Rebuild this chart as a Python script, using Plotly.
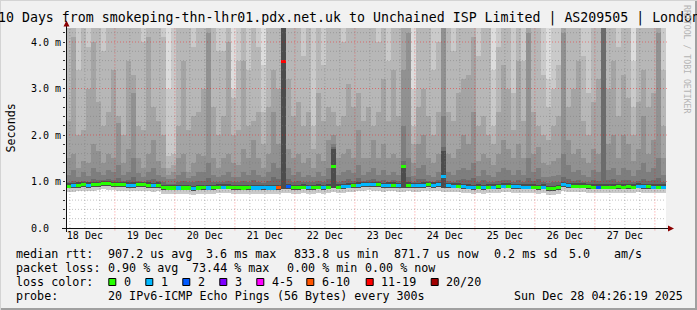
import plotly.graph_objects as go
from datetime import datetime, timedelta

# ---------------- data ----------------
TITLE = "10 Days from smokeping-thn-lhr01.pdx.net.uk to Unchained ISP Limited | AS209505 | London"
END = datetime(2025, 12, 28, 4, 26, 19)
START = END - timedelta(days=10)
BIN_HOURS = 2

day_labels = ["18 Dec", "19 Dec", "20 Dec", "21 Dec", "22 Dec",
              "23 Dec", "24 Dec", "25 Dec", "26 Dec", "27 Dec"]
day_label_times = [datetime(2025, 12, d, 12) for d in range(18, 28)]
y_tick_vals = [0, 1, 2, 3, 4]
y_tick_text = ["0.0\u00a0\u00a0", "1.0 m", "2.0 m", "3.0 m", "4.0 m"]

# median RTT per 2-hour bin (ms)
median_ms = [
    0.90, 0.91, 0.92, 0.93, 0.92, 0.93, 0.94, 0.96, 0.95, 0.94,
    0.93, 0.93, 0.92, 0.92, 0.93, 0.93, 0.92, 0.91, 0.92, 0.87,
    0.86, 0.86, 0.86, 0.86, 0.86, 0.85, 0.86, 0.87, 0.86, 0.87,
    0.88, 0.88, 0.88, 0.87, 0.87, 0.86, 0.87, 0.86, 0.86, 0.87,
    0.86, 0.86, 0.87, 3.58, 0.89, 0.87, 0.87, 0.88, 0.87, 0.87,
    0.88, 0.87, 0.88, 1.33, 0.88, 0.89, 0.90, 0.91, 0.92, 0.93,
    0.94, 0.93, 0.93, 0.91, 0.92, 0.92, 0.91, 1.32, 0.92, 0.91,
    0.91, 0.92, 0.93, 0.92, 0.93, 1.10, 0.91, 0.90, 0.90, 0.89,
    0.88, 0.87, 0.88, 0.87, 0.88, 0.88, 0.89, 0.90, 0.90, 0.89,
    0.89, 0.88, 0.88, 0.88, 0.87, 0.88, 0.85, 0.84, 0.87, 0.93,
    0.91, 0.90, 0.90, 0.90, 0.89, 0.88, 0.88, 0.88, 0.88, 0.88,
    0.89, 0.88, 0.89, 0.88, 0.90, 0.89, 0.89, 0.88, 0.88, 0.88,
]
# lost pings (of 20) per bin
loss_count = [
    0, 1, 0, 0, 1, 0, 0, 0, 0, 0,
    0, 0, 1, 1, 0, 0, 0, 1, 0, 0,
    0, 0, 1, 0, 0, 1, 0, 0, 1, 0,
    0, 1, 0, 0, 0, 0, 0, 1, 1, 1,
    1, 1, 7, 15, 2, 0, 0, 0, 1, 0,
    0, 1, 0, 0, 0, 1, 1, 0, 1, 1,
    1, 1, 0, 1, 1, 0, 1, 0, 0, 1,
    1, 1, 0, 1, 1, 1, 1, 1, 0, 1,
    1, 1, 0, 1, 0, 1, 0, 1, 0, 1,
    1, 1, 1, 0, 0, 1, 0, 0, 0, 1,
    1, 0, 0, 0, 0, 0, 2, 0, 0, 0,
    0, 0, 0, 0, 1, 1, 0, 1, 0, 1,
]
# sorted ping quantiles per bin (ms); 9.9 = beyond the plotted range
ping_min = [
    0.77, 0.78, 0.79, 0.80, 0.79, 0.80, 0.81, 0.83, 0.82, 0.81,
    0.80, 0.80, 0.79, 0.79, 0.80, 0.80, 0.79, 0.78, 0.79, 0.74,
    0.73, 0.73, 0.73, 0.73, 0.73, 0.72, 0.73, 0.74, 0.73, 0.74,
    0.75, 0.75, 0.75, 0.74, 0.74, 0.73, 0.74, 0.73, 0.73, 0.74,
    0.73, 0.73, 0.74, 0.76, 0.76, 0.74, 0.74, 0.75, 0.74, 0.74,
    0.75, 0.74, 0.75, 0.77, 0.75, 0.76, 0.77, 0.78, 0.79, 0.80,
    0.81, 0.80, 0.80, 0.78, 0.79, 0.79, 0.78, 0.78, 0.79, 0.78,
    0.78, 0.79, 0.80, 0.79, 0.80, 0.78, 0.78, 0.77, 0.77, 0.76,
    0.75, 0.74, 0.75, 0.74, 0.75, 0.75, 0.76, 0.77, 0.77, 0.76,
    0.76, 0.75, 0.75, 0.75, 0.74, 0.75, 0.72, 0.71, 0.74, 0.80,
    0.78, 0.77, 0.77, 0.77, 0.76, 0.75, 0.75, 0.75, 0.75, 0.75,
    0.76, 0.75, 0.76, 0.75, 0.77, 0.76, 0.76, 0.75, 0.75, 0.75,
]
ping_lo = [
    0.85, 0.86, 0.87, 0.88, 0.87, 0.88, 0.89, 0.91, 0.90, 0.89,
    0.88, 0.88, 0.87, 0.87, 0.88, 0.88, 0.87, 0.86, 0.87, 0.82,
    0.81, 0.81, 0.81, 0.81, 0.81, 0.80, 0.81, 0.82, 0.81, 0.82,
    0.83, 0.83, 0.83, 0.82, 0.82, 0.81, 0.82, 0.81, 0.81, 0.82,
    0.81, 0.81, 0.82, 0.84, 0.84, 0.82, 0.82, 0.83, 0.82, 0.82,
    0.83, 0.82, 0.83, 0.85, 0.83, 0.84, 0.85, 0.86, 0.87, 0.88,
    0.89, 0.88, 0.88, 0.86, 0.87, 0.87, 0.86, 0.86, 0.87, 0.86,
    0.86, 0.87, 0.88, 0.87, 0.88, 0.86, 0.86, 0.85, 0.85, 0.84,
    0.83, 0.82, 0.83, 0.82, 0.83, 0.83, 0.84, 0.85, 0.85, 0.84,
    0.84, 0.83, 0.83, 0.83, 0.82, 0.83, 0.80, 0.79, 0.82, 0.88,
    0.86, 0.85, 0.85, 0.85, 0.84, 0.83, 0.83, 0.83, 0.83, 0.83,
    0.84, 0.83, 0.84, 0.83, 0.85, 0.84, 0.84, 0.83, 0.83, 0.83,
]
ping_p11 = [
    0.96, 0.97, 0.98, 0.99, 0.98, 0.99, 1.00, 1.02, 1.01, 1.00,
    0.99, 0.99, 0.98, 0.98, 0.99, 0.99, 0.98, 0.97, 0.98, 0.93,
    0.92, 0.92, 0.92, 0.92, 0.92, 0.91, 0.92, 0.93, 0.92, 0.93,
    0.94, 0.94, 0.94, 0.93, 0.93, 0.92, 0.93, 0.92, 0.92, 0.93,
    0.92, 0.92, 0.93, 9.9, 0.95, 0.93, 0.93, 0.94, 0.93, 0.93,
    0.94, 0.93, 0.94, 1.70, 0.94, 0.95, 0.96, 0.97, 0.98, 0.99,
    1.00, 0.99, 0.99, 0.97, 0.98, 0.98, 0.97, 1.36, 0.98, 0.97,
    0.97, 0.98, 0.99, 0.98, 0.99, 1.65, 0.97, 0.96, 0.96, 0.95,
    0.94, 0.93, 0.94, 0.93, 0.94, 0.94, 0.95, 0.96, 0.96, 0.95,
    0.95, 0.94, 0.94, 0.94, 0.93, 0.94, 0.91, 0.90, 0.93, 0.99,
    0.97, 0.96, 0.96, 0.96, 0.95, 0.94, 0.94, 0.94, 0.94, 0.94,
    0.95, 0.94, 0.95, 0.94, 0.96, 0.95, 0.95, 0.94, 0.94, 0.94,
]
ping_p14 = [
    1.00, 1.02, 0.99, 1.02, 1.00, 1.05, 1.03, 1.04, 1.05, 1.03,
    1.08, 1.02, 1.03, 1.10, 1.02, 1.00, 1.04, 1.05, 1.02, 0.98,
    0.95, 0.95, 1.00, 1.02, 0.98, 1.00, 1.02, 1.02, 1.08, 1.00,
    0.98, 1.00, 1.02, 0.98, 0.98, 1.02, 1.00, 1.03, 1.00, 0.97,
    1.02, 1.10, 1.05, 9.9, 1.05, 1.00, 1.02, 0.99, 1.00, 0.98,
    1.02, 1.00, 1.05, 1.75, 1.00, 1.02, 1.05, 1.02, 1.08, 1.02,
    1.03, 1.05, 1.02, 1.04, 1.00, 1.03, 1.02, 1.45, 1.10, 1.00,
    1.05, 1.05, 1.02, 1.00, 1.03, 1.75, 1.02, 1.00, 1.03, 1.05,
    1.04, 1.08, 1.00, 1.03, 1.00, 0.98, 1.02, 1.04, 1.03, 1.00,
    1.03, 1.00, 1.08, 1.02, 1.05, 0.98, 0.97, 0.98, 1.00, 1.10,
    1.05, 1.02, 1.03, 1.00, 0.98, 1.03, 1.02, 9.9, 1.03, 1.05,
    1.00, 1.04, 1.03, 0.99, 1.02, 1.06, 1.02, 1.04, 1.08, 1.00,
]
ping_p15 = [
    1.15, 1.25, 1.10, 1.20, 1.12, 1.30, 1.20, 1.15, 1.25, 1.20,
    1.35, 1.15, 1.20, 1.50, 1.18, 1.10, 1.20, 1.30, 1.15, 1.10,
    1.05, 1.05, 1.15, 1.20, 1.08, 1.12, 1.20, 1.20, 1.40, 1.15,
    1.10, 1.15, 1.20, 1.10, 1.10, 1.20, 1.15, 1.25, 1.15, 1.10,
    1.20, 1.40, 1.30, 9.9, 1.30, 1.15, 1.20, 1.10, 1.15, 1.10,
    1.20, 1.12, 1.30, 1.80, 1.15, 1.20, 1.25, 1.18, 1.35, 1.15,
    1.20, 1.30, 1.15, 1.25, 1.15, 1.20, 1.15, 2.20, 1.50, 1.12,
    1.30, 1.35, 1.15, 1.10, 1.20, 2.40, 1.20, 1.15, 1.25, 1.30,
    1.25, 1.40, 1.12, 1.25, 1.15, 1.10, 1.20, 1.30, 1.25, 1.15,
    1.25, 1.15, 1.50, 1.20, 1.30, 1.10, 1.10, 1.12, 1.15, 1.60,
    1.35, 1.20, 1.25, 1.15, 1.10, 1.25, 1.20, 9.9, 1.25, 1.30,
    1.15, 1.30, 1.25, 1.12, 1.25, 1.40, 1.20, 1.30, 1.50, 1.15,
]
ping_p16 = [
    1.50, 1.60, 1.30, 1.45, 1.40, 1.80, 1.65, 1.40, 1.60, 1.50,
    2.25, 1.40, 1.70, 2.90, 1.50, 1.30, 1.60, 1.90, 1.45, 1.30,
    1.15, 1.20, 1.50, 1.60, 1.20, 1.40, 1.60, 1.55, 4.20, 1.50,
    1.30, 1.50, 1.60, 1.40, 1.35, 1.70, 1.50, 1.90, 1.50, 1.30,
    1.60, 2.50, 1.80, 9.9, 1.70, 1.50, 1.60, 1.40, 1.50, 1.30,
    1.60, 1.45, 1.90, 2.00, 1.50, 1.60, 1.70, 1.50, 2.10, 1.50,
    1.50, 1.90, 1.50, 1.80, 1.50, 1.60, 1.50, 3.40, 4.20, 1.40,
    1.80, 2.00, 1.50, 1.40, 1.60, 4.30, 1.60, 1.50, 1.70, 2.00,
    1.80, 2.50, 1.45, 1.60, 1.50, 1.35, 1.60, 1.90, 1.70, 1.50,
    1.80, 1.50, 4.20, 1.60, 1.75, 1.40, 1.35, 1.45, 1.50, 4.20,
    1.90, 1.60, 1.70, 1.50, 1.40, 1.70, 1.60, 9.9, 1.80, 2.00,
    1.50, 2.00, 1.80, 1.45, 1.70, 2.40, 1.60, 1.90, 4.20, 1.50,
]
ping_p17 = [
    2.30, 4.10, 2.00, 2.10, 3.00, 4.00, 2.70, 2.20, 2.50, 3.40,
    2.40, 2.00, 3.60, 3.30, 2.20, 2.10, 4.10, 2.60, 2.30, 2.00,
    1.30, 1.35, 2.20, 3.60, 2.10, 2.40, 2.50, 3.00, 9.9, 2.60,
    2.00, 2.40, 4.00, 2.00, 2.10, 3.60, 2.20, 2.30, 2.50, 1.80,
    2.60, 3.40, 3.00, 9.9, 3.20, 2.40, 2.70, 2.20, 2.50, 1.70,
    2.90, 2.30, 2.60, 2.50, 2.20, 2.40, 3.10, 2.60, 2.90, 2.30,
    2.60, 2.20, 2.50, 3.20, 2.30, 3.40, 2.40, 9.9, 9.9, 1.80,
    2.60, 3.00, 2.40, 2.00, 2.50, 9.9, 2.50, 2.30, 2.90, 3.20,
    3.30, 4.10, 2.20, 2.40, 2.00, 1.80, 2.50, 3.50, 3.00, 2.10,
    3.60, 2.30, 9.9, 2.50, 2.20, 2.00, 1.90, 2.20, 2.40, 9.9,
    2.60, 3.00, 3.60, 2.30, 2.00, 2.70, 3.20, 9.9, 3.00, 3.60,
    2.40, 3.30, 2.80, 2.00, 2.70, 3.40, 2.60, 2.90, 9.9, 2.20,
]
ping_p18 = [
    9.9, 9.9, 3.40, 9.9, 3.90, 9.9, 9.9, 3.80, 9.9, 9.9,
    9.9, 9.9, 9.9, 9.9, 9.9, 4.00, 9.9, 9.9, 9.9, 4.10,
    1.55, 1.60, 9.9, 9.9, 9.9, 3.90, 9.9, 9.9, 9.9, 9.9,
    3.80, 3.80, 9.9, 2.80, 3.60, 9.9, 3.40, 9.9, 3.90, 2.50,
    9.9, 9.9, 9.9, 9.9, 9.9, 9.9, 9.9, 3.70, 9.9, 2.20,
    9.9, 3.50, 9.9, 9.9, 9.9, 4.00, 9.9, 9.9, 9.9, 9.9,
    9.9, 9.9, 4.00, 9.9, 3.60, 9.9, 9.9, 9.9, 9.9, 2.20,
    9.9, 9.9, 9.9, 3.40, 4.00, 9.9, 9.9, 3.80, 9.9, 9.9,
    9.9, 9.9, 3.70, 9.9, 9.9, 2.20, 3.90, 9.9, 9.9, 2.90,
    9.9, 3.60, 9.9, 9.9, 9.9, 3.30, 2.60, 3.00, 3.50, 9.9,
    9.9, 9.9, 9.9, 3.70, 2.90, 9.9, 9.9, 9.9, 9.9, 9.9,
    3.90, 9.9, 9.9, 2.60, 9.9, 9.9, 9.9, 9.9, 9.9, 3.40,
]
ping_p19 = [
    9.9, 9.9, 9.9, 9.9, 9.9, 9.9, 9.9, 9.9, 9.9, 9.9,
    9.9, 9.9, 9.9, 9.9, 9.9, 9.9, 9.9, 9.9, 9.9, 9.9,
    3.00, 9.9, 9.9, 9.9, 9.9, 9.9, 9.9, 9.9, 9.9, 9.9,
    9.9, 9.9, 9.9, 3.00, 9.9, 9.9, 9.9, 9.9, 9.9, 3.50,
    9.9, 9.9, 9.9, 9.9, 9.9, 9.9, 9.9, 9.9, 9.9, 9.9,
    9.9, 9.9, 9.9, 9.9, 9.9, 9.9, 9.9, 9.9, 9.9, 9.9,
    9.9, 9.9, 9.9, 9.9, 9.9, 9.9, 9.9, 9.9, 9.9, 3.00,
    9.9, 9.9, 9.9, 9.9, 9.9, 9.9, 9.9, 9.9, 9.9, 9.9,
    9.9, 9.9, 9.9, 9.9, 9.9, 3.40, 9.9, 9.9, 9.9, 9.9,
    9.9, 9.9, 9.9, 9.9, 9.9, 9.9, 3.20, 9.9, 9.9, 9.9,
    9.9, 9.9, 9.9, 9.9, 9.9, 9.9, 9.9, 9.9, 9.9, 9.9,
    9.9, 9.9, 9.9, 3.60, 9.9, 9.9, 9.9, 9.9, 9.9, 9.9,
]
ping_p20 = [
    9.9, 9.9, 9.9, 9.9, 9.9, 9.9, 9.9, 9.9, 9.9, 9.9,
    9.9, 9.9, 9.9, 9.9, 9.9, 9.9, 9.9, 9.9, 9.9, 9.9,
    9.9, 9.9, 9.9, 9.9, 9.9, 9.9, 9.9, 9.9, 9.9, 9.9,
    9.9, 9.9, 9.9, 9.9, 9.9, 9.9, 9.9, 9.9, 9.9, 9.9,
    9.9, 9.9, 9.9, 9.9, 9.9, 9.9, 9.9, 9.9, 9.9, 9.9,
    9.9, 9.9, 9.9, 9.9, 9.9, 9.9, 9.9, 9.9, 9.9, 9.9,
    9.9, 9.9, 9.9, 9.9, 9.9, 9.9, 9.9, 9.9, 9.9, 9.9,
    9.9, 9.9, 9.9, 9.9, 9.9, 9.9, 9.9, 9.9, 9.9, 9.9,
    9.9, 9.9, 9.9, 9.9, 9.9, 9.9, 9.9, 9.9, 9.9, 9.9,
    9.9, 9.9, 9.9, 9.9, 9.9, 9.9, 9.9, 9.9, 9.9, 9.9,
    9.9, 9.9, 9.9, 9.9, 9.9, 9.9, 9.9, 9.9, 9.9, 9.9,
    9.9, 9.9, 9.9, 9.9, 9.9, 9.9, 9.9, 9.9, 9.9, 9.9,
]

loss_labels = ["0", "1", "2", "3", "4-5", "6-10", "11-19", "20/20"]
loss_upper = [0, 1, 2, 3, 5, 10, 19, 20]
loss_colors = ["#26ff00", "#00b8ff", "#0059ff", "#7e00ff",
               "#ff00ff", "#ff5500", "#ff0000", "#a10000"]

stat_rows = [
    [("median rtt:", 16), ("907.2 us avg", 107.3), ("3.6 ms max", 206),
     ("833.8 us min", 293.3), ("871.7 us now", 393.3), ("0.2 ms sd", 493.3),
     ("5.0", 568.3), ("am/s", 613.3)],
    [("packet loss:", 16), ("0.90 % avg", 107.3), ("73.44 % max", 191.5),
     ("0.00 % min", 286.7), ("0.00 % now", 365)],
]
probe_text = "20 IPv6-ICMP Echo Pings (56 Bytes) every 300s"
stamp_text = "Sun Dec 28 04:26:19 2025"

# ---------------- styling / geometry ----------------
W, H = 697, 310
PL, PR, PT, PB = 66, 666, 28, 228
MONO = "DejaVu Sans Mono"
Y_TOP = 200 / 46.5


def fx(px):
    return (px - PL) / (PR - PL)


def fy(py):
    return (PB - py) / (PB - PT)


def loss_color(n):
    for ub, c in zip(loss_upper, loss_colors):
        if n <= ub:
            return c
    return loss_colors[-1]


n_bins = len(median_ms)
bin_ms = BIN_HOURS * 3600 * 1000
centers = [START + timedelta(hours=BIN_HOURS * (i + 0.5)) for i in range(n_bins)]

fig = go.Figure()

smoke_layers = [
    (ping_min, ping_p20, "#dddddd"),
    (ping_min, ping_p19, "#cacaca"),
    (ping_lo, ping_p18, "#b7b7b7"),
    (ping_lo, ping_p17, "#a4a4a4"),
    (ping_lo, ping_p16, "#919191"),
    (ping_lo, ping_p15, "#7e7e7e"),
    (ping_lo, ping_p14, "#6b6b6b"),
    (ping_lo, ping_p11, "#4c4c4c"),
]
for lo, hi, col in smoke_layers:
    fig.add_trace(go.Bar(
        x=centers, base=lo, y=[h - l for h, l in zip(hi, lo)],
        width=bin_ms, marker=dict(color=col, line=dict(width=0)),
        hoverinfo="skip", showlegend=False))

MED_H = 0.066
fig.add_trace(go.Bar(
    x=centers, base=[m - MED_H / 2 for m in median_ms], y=[MED_H] * n_bins,
    width=bin_ms, marker=dict(color=[loss_color(n) for n in loss_count],
                              line=dict(width=0)),
    hoverinfo="skip", showlegend=False))

shapes = []
# grid lines (drawn above the smoke, like rrdtool)
minor_grid = "rgba(120,120,120,0.45)"
major_grid = "rgba(255,0,0,0.42)"
t = datetime(2025, 12, 18, 6)
while t < END:
    if t > START:
        major = t.hour == 0
        shapes.append(dict(type="line", xref="x", yref="paper", x0=t, x1=t,
                           y0=-0.012 if major else 0, y1=1, layer="above",
                           line=dict(color=major_grid if major else minor_grid,
                                     width=1, dash="1px,2px")))
    t += timedelta(hours=6)
for k in range(1, 22):
    v = k * 0.2
    major = k % 5 == 0
    shapes.append(dict(type="line", xref="paper", yref="y", x0=0,
                       x1=fx(669) if major else 1, y0=v, y1=v, layer="above",
                       line=dict(color=major_grid if major else minor_grid,
                                 width=1, dash="1px,2px")))
# axes with arrows
shapes.append(dict(type="line", xref="paper", yref="paper", x0=fx(62), x1=fx(669),
                   y0=fy(228.5), y1=fy(228.5), layer="above",
                   line=dict(color="#111111", width=1)))
shapes.append(dict(type="line", xref="paper", yref="paper", x0=fx(66.5), x1=fx(66.5),
                   y0=fy(232), y1=fy(25), layer="above",
                   line=dict(color="#111111", width=1)))
shapes.append(dict(type="path", xref="paper", yref="paper", layer="above",
                   path=f"M {fx(668)},{fy(225.5)} L {fx(674)},{fy(228.5)} L {fx(668)},{fy(231.5)} Z",
                   fillcolor="#8b0000", line=dict(width=0)))
shapes.append(dict(type="path", xref="paper", yref="paper", layer="above",
                   path=f"M {fx(63.5)},{fy(26.5)} L {fx(66.5)},{fy(20.5)} L {fx(69.5)},{fy(26.5)} Z",
                   fillcolor="#8b0000", line=dict(width=0)))
# 3D frame
shapes.append(dict(type="rect", xref="paper", yref="paper", x0=fx(0), x1=fx(697),
                   y0=fy(308), y1=fy(310), fillcolor="#a0a0a0", line=dict(width=0)))
shapes.append(dict(type="rect", xref="paper", yref="paper", x0=fx(695), x1=fx(697),
                   y0=fy(0), y1=fy(310), fillcolor="#a0a0a0", line=dict(width=0)))
shapes.append(dict(type="rect", xref="paper", yref="paper", x0=fx(0), x1=fx(697),
                   y0=fy(0), y1=fy(1), fillcolor="#d4d4d4", line=dict(width=0)))
shapes.append(dict(type="rect", xref="paper", yref="paper", x0=fx(0), x1=fx(1),
                   y0=fy(0), y1=fy(310), fillcolor="#d4d4d4", line=dict(width=0)))

annotations = []


def text(x_px, y_px, s, size=11.7, color="#000000", anchor="left", angle=0):
    annotations.append(dict(x=fx(x_px), y=fy(y_px), xref="paper", yref="paper",
                            text=s, showarrow=False, xanchor=anchor, yanchor="middle",
                            borderpad=0, textangle=angle,
                            font=dict(family=MONO, size=size, color=color)))


text(348.5, 17.5, TITLE, size=13.25, anchor="center")
text(10.5, 128, "Seconds", anchor="center", angle=-90)
text(686.5, 59.5, "RRDTOOL / TOBI OETIKER", size=8.2, color="#b4b4b4",
     anchor="center", angle=90)

row_y = [254.2, 268.4, 282.4, 296.4]
for r, row in enumerate(stat_rows):
    for s, x in row:
        text(x - 0.7, row_y[r], s)
text(16 - 0.7, row_y[2], "loss color:")
sq_x = [108.3, 145.3, 182.3, 219.3, 256.3, 306.3, 365.7, 430.7]
for lab, c, x in zip(loss_labels, loss_colors, sq_x):
    shapes.append(dict(type="rect", xref="paper", yref="paper",
                       x0=fx(x + 0.5), x1=fx(x + 7.5), y0=fy(278.5), y1=fy(285.5),
                       fillcolor=c, line=dict(color="#000000", width=1)))
    text(x + 15 - 0.7, row_y[2], lab)
text(16 - 0.7, row_y[3], "probe:")
text(107.3 - 0.7, row_y[3], probe_text)
text(513.3 - 0.7, row_y[3], stamp_text)

fig.update_layout(
    width=W, height=H, autosize=False,
    margin=dict(l=PL, r=W - PR, t=PT, b=H - PB, pad=0),
    paper_bgcolor="#f1f1f1", plot_bgcolor="#ffffff",
    barmode="overlay", bargap=0, hovermode=False, showlegend=False,
    font=dict(family=MONO, size=10, color="#000000"),
    shapes=shapes, annotations=annotations,
    xaxis=dict(type="date", range=[START, END], showgrid=False, zeroline=False,
               showline=False, ticks="", tickvals=day_label_times,
               ticktext=day_labels, tickfont=dict(family=MONO, size=10),
               fixedrange=True),
    yaxis=dict(range=[0, Y_TOP], showgrid=False, zeroline=False, showline=False,
               tickvals=y_tick_vals, ticktext=y_tick_text, ticks="outside",
               ticklen=2, tickcolor="#333333", tickfont=dict(family=MONO, size=10),
               minor=dict(tickvals=[k * 0.2 for k in range(1, 22)], ticks="outside",
                          ticklen=2, tickcolor="#333333"),
               fixedrange=True),
)

fig.write_html("out.html", config={"displayModeBar": False, "staticPlot": True})
